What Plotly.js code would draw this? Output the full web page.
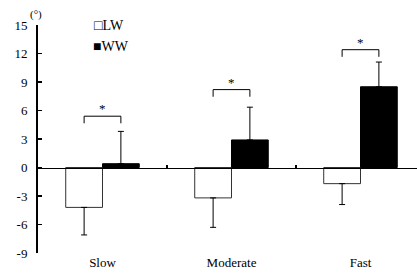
<!DOCTYPE html>
<html><head><meta charset="utf-8">
<script src="https://cdn.plot.ly/plotly-3.0.1.min.js"></script>
<style>html,body{margin:0;padding:0;background:#fff}#c{width:417px;height:278px}</style>
</head><body><div id="c"></div>
<script>
const categories = ["Slow", "Moderate", "Fast"];
const lwValues = [-4.2, -3.2, -1.7];
const lwErrors = [2.9, 3.1, 2.2];
const wwValues = [0.4, 2.9, 8.5];
const wwErrors = [3.4, 3.45, 2.6];
const bracketY = [5.4, 8.2, 12.4];
const yTicks = [-9, -6, -3, 0, 3, 6, 9, 12, 15];
const yTickText = ["-9", "-6", "-3", "0", "3", "6", "9", "12", "15"];

const idx = categories.map((c, i) => i);
const half = 0.1425;
const F = 'Times New Roman, serif';

const bx = [], by = [];
idx.forEach(i => {
  const b = bracketY[i];
  bx.push(i - half, i - half, i + half, i + half, null);
  by.push(b - 0.75, b, b, b - 0.75, null);
});

const traces = [
  {type: "bar", x: idx, y: lwValues, name: "LW",
   marker: {color: "#fff", line: {color: "#333", width: 1}},
   error_y: {type: "data", symmetric: false, array: lwValues.map(() => 0), arrayminus: lwErrors,
             color: "#000", thickness: 1, width: 3}},
  {type: "bar", x: idx, y: wwValues, name: "WW",
   marker: {color: "#000", line: {color: "#000", width: 1}},
   error_y: {type: "data", symmetric: false, array: wwErrors, arrayminus: wwValues.map(() => 0),
             color: "#000", thickness: 1, width: 3}},
  {type: "scatter", mode: "lines", x: bx, y: by, line: {color: "#000", width: 1},
   hoverinfo: "skip", showlegend: false},
  {type: "scatter", x: [0], y: [0], xaxis: "x2", mode: "markers",
   marker: {opacity: 0}, hoverinfo: "skip", showlegend: false}
];

const annotations = idx.map(i => ({
  x: i, y: bracketY[i], xref: "x", yref: "y", text: "*", showarrow: false,
  yanchor: "bottom", yshift: -2, font: {family: F, size: 13, color: "#000"}
}));
annotations.push(
  {xref: "paper", yref: "paper", x: 0, y: 1, xanchor: "center", yanchor: "bottom", yshift: 2, xshift: -2,
   text: "(°)", showarrow: false, font: {family: F, size: 11, color: "#000"}},
  {xref: "paper", yref: "paper", x: 0.143, y: 1.0, xanchor: "left", yanchor: "middle",
   text: "□LW", showarrow: false, font: {family: F, size: 14, color: "#000"}},
  {xref: "paper", yref: "paper", x: 0.14, y: 0.905, xanchor: "left", yanchor: "middle",
   text: "■WW", showarrow: false, font: {family: F, size: 14, color: "#000"}}
);

const layout = {
  width: 417, height: 278,
  margin: {l: 38, r: 0, t: 25, b: 25, pad: 0},
  paper_bgcolor: "#fff", plot_bgcolor: "#fff",
  font: {family: F, color: "#000"},
  barmode: "group", bargap: 0.43, bargroupgap: 0,
  showlegend: false,
  xaxis: {range: [-0.5, 2.438], tickvals: idx, ticktext: categories, ticks: "",
          showline: false, showgrid: false, zeroline: false, fixedrange: true,
          tickfont: {family: F, size: 13, color: "#000"}},
  xaxis2: {overlaying: "x", matches: "x", anchor: "free", position: 9 / 24,
           tickvals: [0.5, 1.5], ticks: "inside", ticklen: 3, tickwidth: 1.5, tickcolor: "#000",
           showticklabels: false, showline: true, linewidth: 1.5, linecolor: "#000",
           showgrid: false, zeroline: false},
  yaxis: {range: [-9, 15], tickvals: yTicks, ticktext: yTickText, ticks: "inside", ticklen: 4, tickwidth: 1.5,
          tickcolor: "#000", showline: true, linewidth: 2, linecolor: "#000",
          showgrid: false, zeroline: false, ticklabelstandoff: 6,
          tickfont: {family: F, size: 13, color: "#000"}},
  annotations: annotations
};

Plotly.newPlot("c", traces, layout, {staticPlot: true, displayModeBar: false});
</script></body></html>
